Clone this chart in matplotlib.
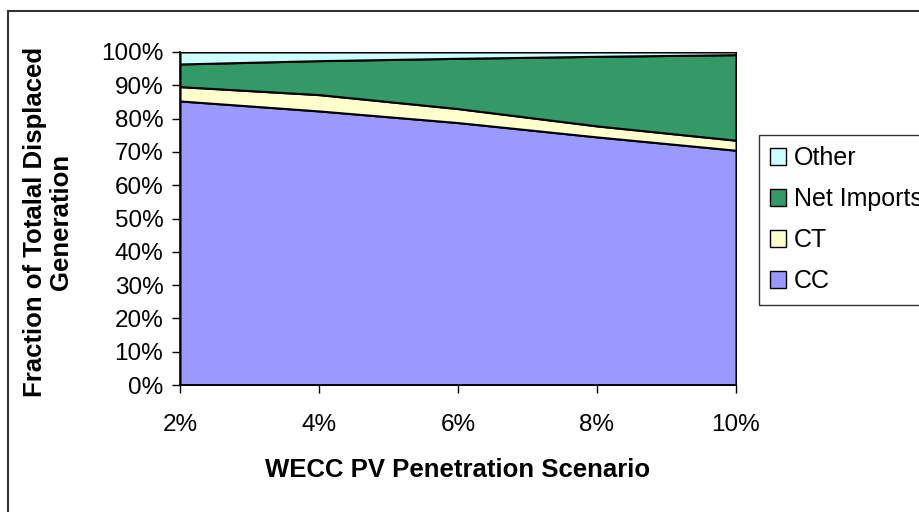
import matplotlib
matplotlib.use("Agg")
import matplotlib.pyplot as plt
from matplotlib.patches import Patch, Rectangle

plt.rcParams['font.family'] = ['Liberation Sans', 'DejaVu Sans']

scenarios = [2, 4, 6, 8, 10]
x_labels = ["2%", "4%", "6%", "8%", "10%"]
cc = [85.3, 82.3, 78.8, 74.5, 70.5]
ct = [4.3, 4.9, 4.2, 3.3, 3.0]
net_imports = [6.8, 10.2, 15.1, 20.9, 25.7]
other = [3.6, 2.6, 1.9, 1.3, 0.8]
series_names = ["CC", "CT", "Net Imports", "Other"]
colors = ["#9999FF", "#FFFFCC", "#339966", "#CCFFFF"]

W, H = 920, 512
fig = plt.figure(figsize=(W / 100, H / 100), dpi=100)

# figure border (partly cut off at right and bottom)
fig.patches.append(Rectangle((8 / W, -0.1), 1.2, (H - 11) / H + 0.1,
                             transform=fig.transFigure, fill=False,
                             edgecolor="#333333", linewidth=1.5, clip_on=False))

ax = fig.add_axes([180 / W, (H - 385) / H, 556 / W, 333 / H])
ax.stackplot(scenarios, cc, ct, net_imports, other, colors=colors,
             edgecolor="black", linewidth=1.5)
ax.set_xlim(2, 10)
ax.set_ylim(0, 100)
ax.set_yticks(range(0, 101, 10))
ax.set_yticklabels([f"{v}%" for v in range(0, 101, 10)], fontsize=17.5)
ax.set_xticks(scenarios)
ax.set_xticklabels(x_labels, fontsize=17.5)
ax.tick_params(axis="y", direction="out", length=6, width=1, pad=6)
ax.tick_params(axis="x", direction="out", length=6, width=1, pad=15)
for s in ["top", "right"]:
    ax.spines[s].set_visible(False)
for s in ["left", "bottom"]:
    ax.spines[s].set_linewidth(1.2)

fig.text(458 / W, 1 - 470 / H, "WECC PV Penetration Scenario",
         ha="center", va="center", fontsize=18.5, fontweight="bold")
fig.text(48 / W, 1 - 222 / H, "Fraction of Totalal Displaced\nGeneration",
         rotation=90, ha="center", va="center", fontsize=18.5,
         fontweight="bold", multialignment="center", linespacing=1.15)

handles = [Patch(facecolor=colors[i], edgecolor="black", linewidth=1)
           for i in [3, 2, 1, 0]]
labels = [series_names[i] for i in [3, 2, 1, 0]]
leg = fig.legend(handles, labels, loc="upper left",
                 bbox_to_anchor=(759 / W, 1 - 135 / H), fontsize=18,
                 frameon=True, fancybox=False, edgecolor="black",
                 handlelength=0.65, handleheight=0.65, handletextpad=0.3,
                 labelspacing=0.68, borderpad=0.45, borderaxespad=0)
leg.get_frame().set_linewidth(1)

fig.savefig("out.png", dpi=100)
